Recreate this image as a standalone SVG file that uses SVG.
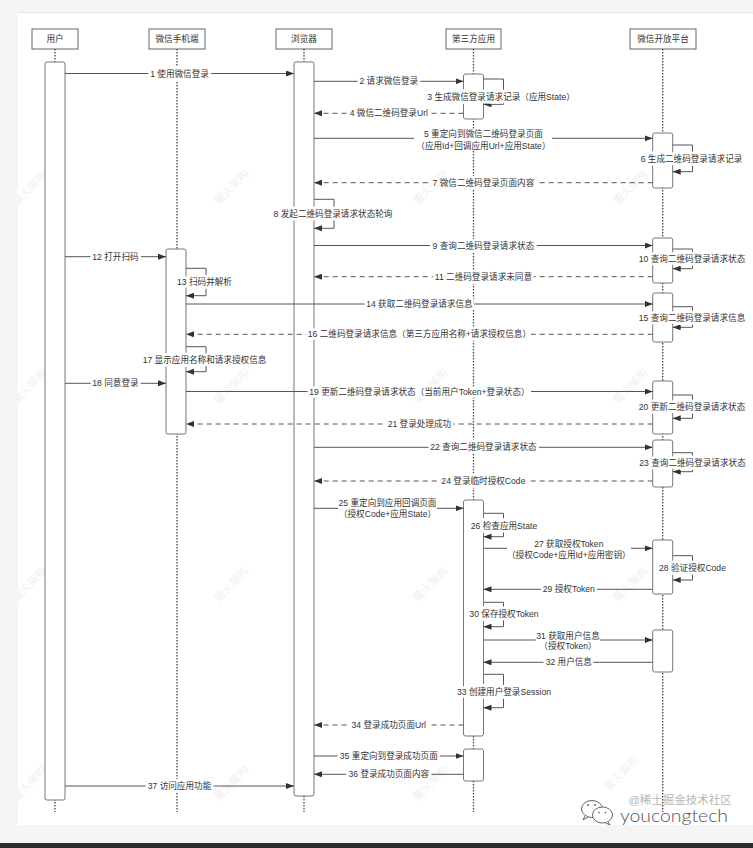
<svg xmlns="http://www.w3.org/2000/svg" width="753" height="848" viewBox="0 0 753 848">
<defs>
<style>
.t{font-family:"Liberation Sans","Noto Sans CJK SC",sans-serif;font-size:8.6px;fill:#333;text-anchor:middle}
.h{paint-order:stroke;stroke:#fff;stroke-width:5.5px;stroke-linejoin:round}
.ll{stroke:#444;stroke-width:1.3;stroke-dasharray:1.5 1.5;fill:none}
.act{fill:#fff;stroke:#777;stroke-width:1}
.hdr{fill:#fff;stroke:#666;stroke-width:1}
.m{stroke:#555;stroke-width:1;fill:none;marker-end:url(#ah)}
.r{stroke-dasharray:5 4}
.lb{fill:#fff}
.wm{font-family:"Noto Sans CJK SC",sans-serif;font-size:11px;fill:#f0f0f0;text-anchor:middle}
</style>
<marker id="ah" viewBox="0 0 8 6" refX="8" refY="3" markerWidth="8" markerHeight="6" markerUnits="userSpaceOnUse" orient="auto">
<path d="M0,0 L8,3 L0,6 z" fill="#333"/>
</marker>
<clipPath id="panel"><rect x="18" y="12.5" width="735" height="812.5"/></clipPath>
</defs>

<rect x="0" y="0" width="753" height="848" fill="#f5f5f5"/>
<rect x="18" y="12.5" width="735" height="812.5" fill="#fff"/>
<line x1="18" y1="12.5" x2="753" y2="12.5" stroke="#e2e2e2" stroke-width="1"/>
<rect x="0" y="843" width="753" height="5" fill="#2b2b2b"/>

<g id="watermarks" clip-path="url(#panel)">
<text class="wm" transform="translate(32,191) rotate(-45)">萤火架构</text>
<text class="wm" transform="translate(234,190) rotate(-45)">萤火架构</text>
<text class="wm" transform="translate(433,190) rotate(-45)">萤火架构</text>
<text class="wm" transform="translate(633,190) rotate(-45)">萤火架构</text>
<text class="wm" transform="translate(32,389) rotate(-45)">萤火架构</text>
<text class="wm" transform="translate(234,389) rotate(-45)">萤火架构</text>
<text class="wm" transform="translate(433,389) rotate(-45)">萤火架构</text>
<text class="wm" transform="translate(633,389) rotate(-45)">萤火架构</text>
<text class="wm" transform="translate(32,587) rotate(-45)">萤火架构</text>
<text class="wm" transform="translate(234,587) rotate(-45)">萤火架构</text>
<text class="wm" transform="translate(433,587) rotate(-45)">萤火架构</text>
<text class="wm" transform="translate(633,587) rotate(-45)">萤火架构</text>
<text class="wm" transform="translate(32,786) rotate(-45)">萤火架构</text>
<text class="wm" transform="translate(234,786) rotate(-45)">萤火架构</text>
<text class="wm" transform="translate(433,786) rotate(-45)">萤火架构</text>
<text class="wm" transform="translate(624,776) rotate(-45)">萤火架构</text>
</g>

<g id="user">
<rect class="hdr" x="32" y="29" width="46" height="20"/>
<text class="t" x="55" y="42">用户</text>
<line class="ll" x1="55" y1="49" x2="55" y2="812"/>
<rect class="act" x="45" y="62" width="20" height="738" rx="2"/>
</g>

<g id="phone">
<rect class="hdr" x="149" y="29" width="56" height="20"/>
<text class="t" x="177" y="42">微信手机端</text>
<line class="ll" x1="177" y1="49" x2="177" y2="812"/>
<rect class="act" x="166" y="249" width="20" height="185" rx="2"/>
</g>

<g id="browser">
<rect class="hdr" x="276" y="29" width="56" height="20"/>
<text class="t" x="304" y="42">浏览器</text>
<line class="ll" x1="304" y1="49" x2="304" y2="812"/>
<rect class="act" x="294" y="62" width="20" height="734" rx="2"/>
</g>

<g id="app">
<rect class="hdr" x="446" y="29" width="55" height="20"/>
<text class="t" x="473.5" y="42">第三方应用</text>
<line class="ll" x1="473.5" y1="49" x2="473.5" y2="812"/>
<rect class="act" x="463.5" y="74" width="20" height="45" rx="2"/>
<rect class="act" x="463.5" y="500" width="20" height="236" rx="2"/>
<rect class="act" x="463.5" y="749" width="20" height="32" rx="2"/>
</g>

<g id="open">
<rect class="hdr" x="630" y="29" width="66" height="20"/>
<text class="t" x="663" y="42">微信开放平台</text>
<line class="ll" x1="662.7" y1="49" x2="662.7" y2="812"/>
<rect class="act" x="652.7" y="133" width="20" height="55" rx="2"/>
<rect class="act" x="652.7" y="238" width="20" height="45" rx="2"/>
<rect class="act" x="652.7" y="293" width="20" height="49" rx="2"/>
<rect class="act" x="652.7" y="381" width="20" height="53" rx="2"/>
<rect class="act" x="652.7" y="440" width="20" height="47" rx="2"/>
<rect class="act" x="652.7" y="540" width="20" height="54" rx="2"/>
<rect class="act" x="652.7" y="630" width="20" height="42" rx="2"/>
</g>

<g id="connectors">
<line class="m" x1="65" y1="73.5" x2="294" y2="73.5"/>
<text class="t h" x="179.5" y="76.5">1 使用微信登录</text>

<line class="m" x1="314" y1="81.3" x2="463.5" y2="81.3"/>
<text class="t h" x="388.8" y="84.3">2 请求微信登录</text>

<path class="m" d="M483.5,79 H503.5 V104.3 H483.5"/>
<text class="t h" x="501" y="99.7">3 生成微信登录请求记录（应用State）</text>

<line class="m r" x1="463.5" y1="113.3" x2="314" y2="113.3"/>
<text class="t h" x="388.8" y="116.3">4 微信二维码登录Url</text>

<line class="m" x1="314" y1="138.3" x2="652.7" y2="138.3"/>
<rect class="lb" x="414" y="130" width="138" height="21"/>
<text class="t" x="483.4" y="137.3">5 重定向到微信二维码登录页面</text>
<text class="t" x="483.4" y="148.7">（应用Id+回调应用Url+应用State）</text>

<path class="m" d="M672.7,145 H692.5 V171.7 H672.7"/>
<text class="t h" x="691.5" y="162.3">6 生成二维码登录请求记录</text>

<line class="m r" x1="652.7" y1="182.7" x2="314" y2="182.7"/>
<text class="t h" x="483.4" y="185.7">7 微信二维码登录页面内容</text>

<path class="m" d="M314,199.3 H334 V228.3 H314"/>
<text class="t h" x="333" y="217.3">8 发起二维码登录请求状态轮询</text>

<line class="m" x1="314" y1="245.5" x2="652.7" y2="245.5"/>
<text class="t h" x="483.4" y="248.5">9 查询二维码登录请求状态</text>

<path class="m" d="M672.7,249 H692.5 V268.7 H672.7"/>
<text class="t h" x="692" y="262.3">10 查询二维码登录请求状态</text>

<line class="m r" x1="652.7" y1="276.7" x2="314" y2="276.7"/>
<text class="t h" x="483.4" y="279.7">11 二维码登录请求未同意</text>

<line class="m" x1="65" y1="256.7" x2="166" y2="256.7"/>
<text class="t h" x="115.5" y="259.7">12 打开扫码</text>

<path class="m" d="M186,268.3 H206 V295.7 H186"/>
<text class="t h" x="204.5" y="285.3">13 扫码并解析</text>

<line class="m" x1="186" y1="304" x2="652.7" y2="304"/>
<text class="t h" x="419.4" y="307">14 获取二维码登录请求信息</text>

<path class="m" d="M672.7,306.7 H692.5 V327.3 H672.7"/>
<text class="t h" x="692" y="320.7">15 查询二维码登录请求信息</text>

<line class="m r" x1="652.7" y1="334.3" x2="186" y2="334.3"/>
<rect class="lb" x="308" y="329.3" width="223" height="10"/>
<text class="t h" x="419.4" y="337.3">16 二维码登录请求信息（第三方应用名称+请求授权信息）</text>

<path class="m" d="M186,346.7 H206 V371.7 H186"/>
<text class="t h" x="204.5" y="363">17 显示应用名称和请求授权信息</text>

<line class="m" x1="65" y1="383.3" x2="166" y2="383.3"/>
<text class="t h" x="115.5" y="386.3">18 同意登录</text>

<line class="m" x1="186" y1="391.5" x2="652.7" y2="391.5"/>
<rect class="lb" x="308" y="386.5" width="223" height="10"/>
<text class="t h" x="419.4" y="394.5">19 更新二维码登录请求状态（当前用户Token+登录状态）</text>

<path class="m" d="M672.7,395 H692.5 V418.3 H672.7"/>
<text class="t h" x="692" y="409.7">20 更新二维码登录请求状态</text>

<line class="m r" x1="652.7" y1="424" x2="186" y2="424"/>
<text class="t h" x="419.4" y="427">21 登录处理成功</text>

<line class="m" x1="314" y1="447.3" x2="652.7" y2="447.3"/>
<text class="t h" x="483.4" y="450.3">22 查询二维码登录请求状态</text>

<path class="m" d="M672.7,452.7 H692.5 V471.7 H672.7"/>
<text class="t h" x="692.5" y="466.3">23 查询二维码登录请求状态</text>

<line class="m r" x1="652.7" y1="481" x2="314" y2="481"/>
<text class="t h" x="483.4" y="484">24 登录临时授权Code</text>

<line class="m" x1="314" y1="508.3" x2="463.5" y2="508.3"/>
<rect class="lb" x="338" y="498" width="99" height="21.5"/>
<text class="t" x="387.5" y="506.3">25 重定向到应用回调页面</text>
<text class="t" x="387.5" y="517.3">（授权Code+应用State）</text>

<path class="m" d="M483.5,513.3 H503.5 V536.7 H483.5"/>
<text class="t h" x="504" y="529">26 检查应用State</text>

<line class="m" x1="483.5" y1="548.3" x2="652.7" y2="548.3"/>
<rect class="lb" x="507" y="538.5" width="124" height="21"/>
<text class="t" x="568.8" y="547.3">27 获取授权Token</text>
<text class="t" x="568.8" y="558">（授权Code+应用Id+应用密钥）</text>

<path class="m" d="M672.7,555.7 H692.5 V580 H672.7"/>
<text class="t h" x="692.5" y="570.7">28 验证授权Code</text>

<line class="m" x1="652.7" y1="589.3" x2="483.5" y2="589.3"/>
<text class="t h" x="568.8" y="592.3">29 授权Token</text>

<path class="m" d="M483.5,602.3 H503.5 V626.7 H483.5"/>
<text class="t h" x="504" y="617.3">30 保存授权Token</text>

<line class="m" x1="483.5" y1="640" x2="652.7" y2="640"/>
<rect class="lb" x="535.7" y="630.5" width="64.3" height="20.5"/>
<text class="t" x="568" y="639">31 获取用户信息</text>
<text class="t" x="568" y="649">（授权Token）</text>

<line class="m" x1="652.7" y1="662.3" x2="483.5" y2="662.3"/>
<text class="t h" x="568.8" y="665.3">32 用户信息</text>

<path class="m" d="M483.5,674.3 H503.5 V707.7 H483.5"/>
<text class="t h" x="504" y="694.7">33 创建用户登录Session</text>

<line class="m r" x1="463.5" y1="725" x2="314" y2="725"/>
<text class="t h" x="388.8" y="728">34 登录成功页面Url</text>

<line class="m" x1="314" y1="756" x2="463.5" y2="756"/>
<text class="t h" x="388.8" y="759">35 重定向到登录成功页面</text>

<line class="m" x1="463.5" y1="774.3" x2="314" y2="774.3"/>
<text class="t h" x="388.8" y="777.3">36 登录成功页面内容</text>

<line class="m" x1="65" y1="786" x2="294" y2="786"/>
<text class="t h" x="179.5" y="789">37 访问应用功能</text>
</g>

<g id="credit">
<text x="680" y="804" font-family="Liberation Sans,Noto Sans CJK SC,sans-serif" font-size="11.5" fill="#b5b5b5" text-anchor="middle">@稀土掘金技术社区</text>
<ellipse cx="592" cy="809" rx="10.5" ry="8.5" fill="#fff" stroke="#555" stroke-width="0.9"/>
<path d="M585,816 L583,820 L588,817" fill="#fff" stroke="#555" stroke-width="0.9"/>
<ellipse cx="602.5" cy="815" rx="10" ry="8" fill="#fff" stroke="#555" stroke-width="0.9"/>
<path d="M608,822 L610,825 L605,822.5" fill="#fff" stroke="#555" stroke-width="0.9"/>
<circle cx="588" cy="805" r="0.9" fill="#555"/>
<circle cx="595" cy="805" r="0.9" fill="#555"/>
<circle cx="599" cy="812.5" r="0.8" fill="#555"/>
<circle cx="605.5" cy="812.5" r="0.8" fill="#555"/>
<text x="620" y="822" font-family="Lato,Liberation Sans,sans-serif" font-weight="300" font-size="17" fill="#555" textLength="108" lengthAdjust="spacingAndGlyphs">youcongtech</text>
</g>
</svg>
